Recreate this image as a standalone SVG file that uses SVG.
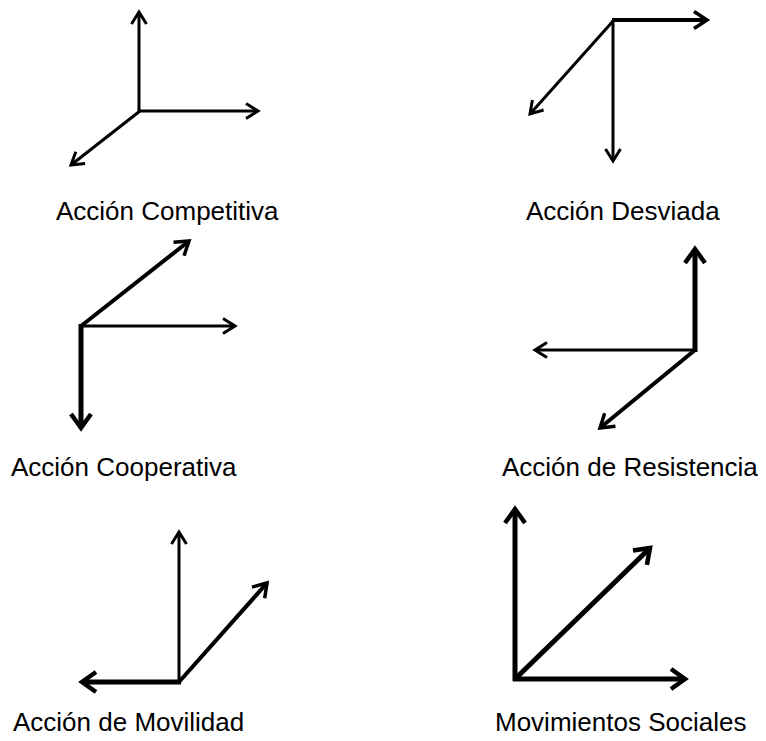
<svg xmlns="http://www.w3.org/2000/svg" width="766" height="741" viewBox="0 0 766 741">
<style>
.bg{fill:#ffffff}
.ln{fill:none;stroke:#000;stroke-linecap:butt}
.t{stroke-width:3;marker-end:url(#hT)}
.m{stroke-width:4;marker-end:url(#hM)}
.k{stroke-width:5;marker-end:url(#hK)}
.lbl{font-family:"Liberation Sans",Arial,sans-serif;font-size:26px;fill:#000}
</style>
<defs>
<marker id="hT" markerUnits="userSpaceOnUse" viewBox="-18 -12 22 24" markerWidth="22" markerHeight="24" refX="0" refY="0" orient="auto" overflow="visible">
<path d="M-12,-7.5 L0,0 L-12,7.5" fill="none" stroke="#000" stroke-width="3" stroke-linejoin="miter"/>
</marker>
<marker id="hM" markerUnits="userSpaceOnUse" viewBox="-18 -12 22 24" markerWidth="22" markerHeight="24" refX="0" refY="0" orient="auto" overflow="visible">
<path d="M-13,-8.5 L0,0 L-13,8.5" fill="none" stroke="#000" stroke-width="3.5" stroke-linejoin="miter"/>
</marker>
<marker id="hK" markerUnits="userSpaceOnUse" viewBox="-18 -12 22 24" markerWidth="22" markerHeight="24" refX="0" refY="0" orient="auto" overflow="visible">
<path d="M-14,-10 L0,0 L-14,10" fill="none" stroke="#000" stroke-width="4.5" stroke-linejoin="miter"/>
</marker>
</defs>
<rect class="bg" x="0" y="0" width="766" height="741"/>
<g id="connectors">
<line class="ln t" x1="139" y1="111" x2="139" y2="12"/>
<line class="ln t" x1="139" y1="111" x2="258" y2="111"/>
<line class="ln t" x1="140" y1="111" x2="71" y2="165"/>
<line class="ln m" x1="612" y1="20" x2="707" y2="20"/>
<line class="ln t" x1="613" y1="20" x2="613" y2="161"/>
<line class="ln t" x1="614" y1="20" x2="530" y2="114"/>
<line class="ln m" x1="81" y1="326" x2="189" y2="241"/>
<line class="ln t" x1="81" y1="326" x2="235" y2="326"/>
<line class="ln k" x1="81" y1="324" x2="81" y2="428"/>
<line class="ln k" x1="695" y1="352" x2="695" y2="249"/>
<line class="ln t" x1="695" y1="350" x2="535" y2="350"/>
<line class="ln m" x1="695" y1="350" x2="600" y2="428"/>
<line class="ln t" x1="179" y1="682" x2="179" y2="532"/>
<line class="ln k" x1="181" y1="682" x2="82" y2="682"/>
<line class="ln m" x1="179" y1="682" x2="267" y2="583"/>
<line class="ln k" x1="515" y1="681" x2="515" y2="509"/>
<line class="ln k" x1="513" y1="679" x2="685" y2="679"/>
<line class="ln k" x1="515" y1="679" x2="650" y2="548"/>
</g>
<g id="competitiva"><text class="lbl" x="56" y="220">Acción Competitiva</text></g>
<g id="desviada"><text class="lbl" x="526" y="220">Acción Desviada</text></g>
<g id="cooperativa"><text class="lbl" x="11" y="476">Acción Cooperativa</text></g>
<g id="resistencia"><text class="lbl" x="502" y="476">Acción de Resistencia</text></g>
<g id="movilidad"><text class="lbl" x="13" y="731">Acción de Movilidad</text></g>
<g id="movimientos"><text class="lbl" x="495" y="731">Movimientos Sociales</text></g>
</svg>
